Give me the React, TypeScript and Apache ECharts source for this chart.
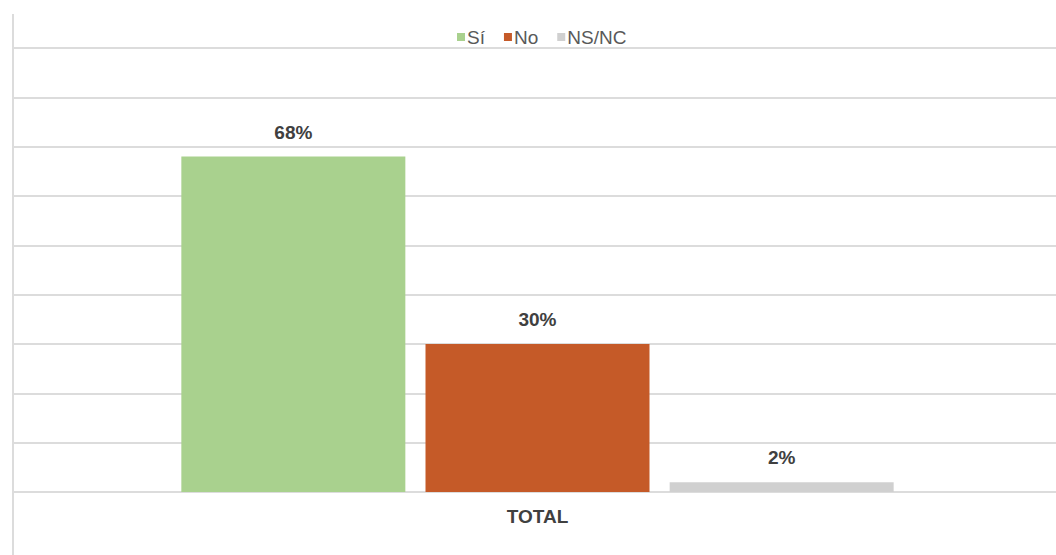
import React, { useEffect, useRef } from "react";
import * as echarts from "echarts";

const categories = ["TOTAL"];
const seriesNames = ["Sí", "No", "NS/NC"];
const siValues = [68];
const noValues = [30];
const nsncValues = [2];
const colors = ["#A9D18E", "#C55A28", "#D0D0D0"];

const FONT = "Liberation Sans, Arial, Helvetica, sans-serif";

export default function App() {
  const ref = useRef<HTMLDivElement>(null);
  useEffect(() => {
    if (!ref.current) return;
    const chart = echarts.init(ref.current, null, { renderer: "svg" });
    const label = {
      show: true,
      position: "top",
      distance: 15,
      formatter: "{c}%",
      color: "#404040",
      fontWeight: "bold",
      fontSize: 19,
      fontFamily: FONT,
    };
    const datasets = [siValues, noValues, nsncValues];
    chart.setOption({
      animation: false,
      textStyle: { fontFamily: FONT },
      legend: {
        data: seriesNames,
        top: 22,
        left: 452,
        itemWidth: 8,
        itemHeight: 8,
        itemGap: 19,
        icon: "rect",
        textStyle: {
          color: "#595959",
          fontSize: 19,
          lineHeight: 20,
          fontFamily: FONT,
          padding: [0, 0, 0, -3],
        },
      },
      grid: { left: 13, right: 0, top: 48, bottom: 63, containLabel: false },
      xAxis: {
        type: "category",
        data: categories,
        axisLine: { show: false },
        axisTick: { show: false },
        axisLabel: {
          color: "#404040",
          fontWeight: "bold",
          fontSize: 19,
          fontFamily: FONT,
          margin: 15,
        },
      },
      yAxis: {
        type: "value",
        min: 0,
        max: 90,
        interval: 10,
        axisLabel: { show: false },
        axisLine: { show: false },
        axisTick: { show: false },
        splitLine: { lineStyle: { color: "#DCDCDC", width: 2 } },
      },
      graphic: [
        {
          type: "line",
          shape: { x1: 13, y1: 14, x2: 13, y2: 555 },
          style: { stroke: "#DCDCDC", lineWidth: 2 },
        },
      ],
      series: seriesNames.map((name, i) => ({
        name,
        type: "bar",
        data: datasets[i],
        barWidth: 224,
        barGap: "9%",
        itemStyle: { color: colors[i] },
        label,
      })),
    });
    return () => chart.dispose();
  }, []);
  return (
    <div
      style={{
        position: "fixed",
        left: 0,
        top: 0,
        width: 1056,
        height: 555,
        overflow: "hidden",
        background: "#fff",
      }}
    >
      <div ref={ref} style={{ width: 1062, height: 555 }} />
    </div>
  );
}
